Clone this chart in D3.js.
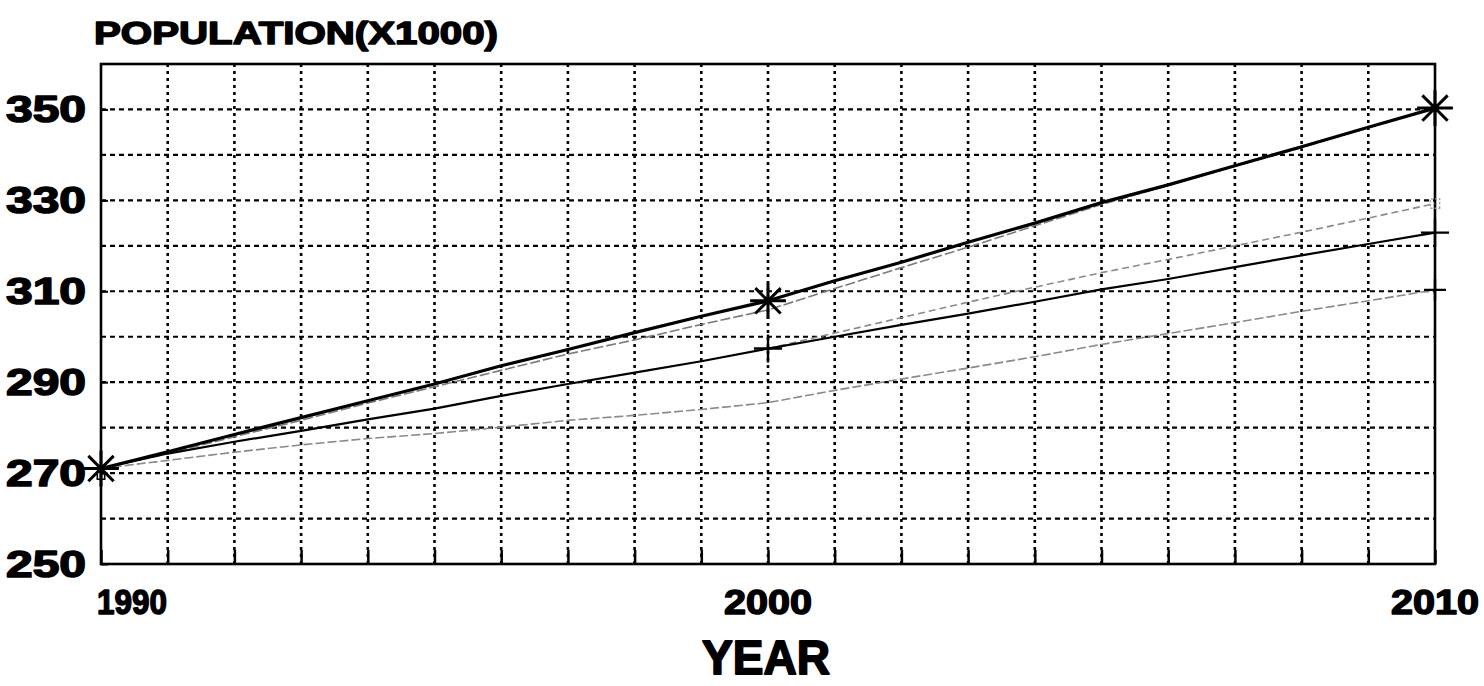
<!DOCTYPE html>
<html>
<head>
<meta charset="utf-8">
<script src="https://cdn.jsdelivr.net/npm/d3@7/dist/d3.min.js"></script>
<style>
  body { margin: 0; background: #fff; }
  text { font-family: "Liberation Sans", Arial, sans-serif; font-weight: bold; fill: #000; stroke: #000; stroke-width: 1.5; stroke-linejoin: round; }
  .grid-h line { stroke: #000; stroke-width: 2.2; stroke-dasharray: 5,4; }
  .grid-v line { stroke: #000; stroke-width: 2.6; stroke-dasharray: 3,4; }
</style>
</head>
<body>
<svg width="1484" height="686"></svg>
<script>
// years on the x axis
let years = [1990, 1991, 1992, 1993, 1994, 1995, 1996, 1997, 1998, 1999, 2000,
             2001, 2002, 2003, 2004, 2005, 2006, 2007, 2008, 2009, 2010];

// population (x1000)
let heavyUpper = [271, 274.7, 278.5, 282.2, 285.9, 289.6, 293.6, 297.2, 300.9, 304.5, 307.9,
                  312.3, 316.4, 320.8, 325.0, 329.5, 333.4, 337.6, 341.8, 346.1, 350.3];
let grayUpper  = [271, 274.3, 278.0, 281.6, 285.4, 289.0, 292.6, 296.2, 299.3, 302.7, 305.9,
                  310.6, 315.2, 319.7, 324.4, 329.1, 333.3, 337.5, 341.6, 346.0, 350.3];
let solidMid   = [271, 274.3, 276.9, 279.3, 281.8, 284.2, 287.0, 289.6, 292.1, 294.6, 297.4,
                  300.0, 302.6, 305.1, 307.7, 310.4, 312.7, 315.3, 317.9, 320.4, 322.9];
let grayMid    = [null, null, null, null, null, null, null, null, null, null, 297.4,
                  300.8, 304.2, 307.6, 310.9, 314.1, 317.0, 320.0, 323.0, 326.1, 329.3];
let grayLower  = [271, 272.8, 274.6, 276.2, 277.6, 278.7, 280.1, 281.6, 282.7, 284.0, 285.5,
                  288.2, 290.7, 293.1, 295.6, 298.3, 300.7, 303.1, 305.6, 307.9, 310.3];

let yTicks = [250, 270, 290, 310, 330, 350];
let yGrid = [260, 270, 280, 290, 300, 310, 320, 330, 340, 350];
let xLabels = [1990, 2000, 2010];

var svg = d3.select("svg");
var plotL = 101, plotR = 1435, plotT = 64, plotB = 564;

var x = d3.scaleLinear().domain([1990, 2010]).range([plotL, plotR]);
var y = d3.scaleLinear().domain([250, 360]).range([plotB, plotT]);

// grid
svg.append("g").attr("class", "grid-h")
    .selectAll("line").data(yGrid).enter().append("line")
    .attr("x1", plotL).attr("x2", plotR)
    .attr("y1", d => y(d)).attr("y2", d => y(d));

svg.append("g").attr("class", "grid-v")
    .selectAll("line").data(years.slice(1, -1)).enter().append("line")
    .attr("y1", plotT).attr("y2", plotB)
    .attr("x1", d => x(d)).attr("x2", d => x(d));

// inward ticks
svg.append("g").call(d3.axisRight(y).tickValues(yTicks).tickSize(7).tickFormat(""))
    .attr("transform", "translate(" + plotL + ",0)")
    .call(g => g.select(".domain").remove())
    .selectAll("line").attr("stroke", "#000").attr("stroke-width", 2);
svg.append("g").call(d3.axisTop(x).tickValues(years).tickSize(14).tickFormat(""))
    .attr("transform", "translate(0," + plotB + ")")
    .call(g => g.select(".domain").remove())
    .selectAll("line").attr("stroke", "#000").attr("stroke-width", 2.5);

// frame
svg.append("rect")
    .attr("x", plotL).attr("y", plotT)
    .attr("width", plotR - plotL).attr("height", plotB - plotT)
    .attr("fill", "none").attr("stroke", "#000").attr("stroke-width", 2.6);

// lines
var line = d3.line()
    .defined(d => d.v != null)
    .x(d => x(d.year))
    .y(d => y(d.v));

function pts(arr) { return years.map((yr, i) => ({year: yr, v: arr[i]})); }

var series = [
    {data: grayLower, color: "#8a8a8a", width: 1.6, dash: "9,3"},
    {data: grayMid,   color: "#8a8a8a", width: 1.6, dash: "7,4"},
    {data: grayUpper, color: "#7a7a7a", width: 1.6, dash: "10,3"},
    {data: solidMid,  color: "#000",    width: 2.2, dash: null},
    {data: heavyUpper, color: "#000",   width: 3.2, dash: null}
];

svg.append("g").selectAll("path").data(series).enter().append("path")
    .attr("fill", "none")
    .attr("stroke", d => d.color)
    .attr("stroke-width", d => d.width)
    .attr("stroke-dasharray", d => d.dash)
    .attr("d", d => line(pts(d.data)));

// markers: 8-point stars on the heavy series
var markIdx = [0, 10, 20];
var stars = svg.append("g").selectAll("g").data(markIdx).enter().append("g")
    .attr("transform", i => "translate(" + x(years[i]) + "," + y(heavyUpper[i]) + ")");
stars.append("path")
    .attr("d", d3.symbol(d3.symbolPlus, 420))
    .attr("fill", "none").attr("stroke", "#000").attr("stroke-width", 3);
stars.append("path")
    .attr("d", d3.symbol(d3.symbolTimes, 420))
    .attr("fill", "none").attr("stroke", "#000").attr("stroke-width", 3);
stars.append("circle").attr("r", 4).attr("fill", "#000");

svg.append("g").selectAll("path").data([10, 20]).enter().append("path")
    .attr("transform", i => "translate(" + x(years[i]) + "," + y(solidMid[i]) + ")")
    .attr("d", d3.symbol(d3.symbolPlus, 260))
    .attr("fill", "none").attr("stroke", "#000").attr("stroke-width", 2.4);
svg.append("g").selectAll("path").data([20]).enter().append("path")
    .attr("transform", i => "translate(" + x(years[i]) + "," + y(grayLower[i]) + ")")
    .attr("d", d3.symbol(d3.symbolPlus, 160))
    .attr("fill", "none").attr("stroke", "#000").attr("stroke-width", 2.4);
svg.append("path")
    .attr("transform", "translate(" + x(years[0]) + "," + (y(grayLower[0]) + 7) + ")")
    .attr("d", d3.symbol(d3.symbolSquare2, 70))
    .attr("fill", "none").attr("stroke", "#000").attr("stroke-width", 1.6);
svg.append("path")
    .attr("transform", "translate(" + x(years[20]) + "," + y(grayMid[20]) + ")")
    .attr("d", d3.symbol(d3.symbolSquare2, 110))
    .attr("fill", "none").attr("stroke", "#999").attr("stroke-width", 1.4)
    .attr("stroke-dasharray", "2,2");

// y labels
svg.append("g").selectAll("text").data(yTicks).enter().append("text")
    .attr("x", 6).attr("y", d => y(d) + 13)
    .attr("textLength", 80).attr("lengthAdjust", "spacingAndGlyphs")
    .style("font-size", "36px")
    .text(d => d);

// x labels
svg.append("g").selectAll("text").data(xLabels).enter().append("text")
    .attr("x", d => d === 1990 ? 97 : x(d) - 44)
    .attr("y", 614)
    .attr("textLength", d => d === 1990 ? 70 : 88).attr("lengthAdjust", "spacingAndGlyphs")
    .style("font-size", "35px")
    .text(d => d);

// titles
svg.append("text")
    .attr("x", 94).attr("y", 44)
    .attr("textLength", 404).attr("lengthAdjust", "spacingAndGlyphs")
    .style("font-size", "32px")
    .text("POPULATION(X1000)");

svg.append("text")
    .attr("x", 702).attr("y", 674)
    .attr("textLength", 128).attr("lengthAdjust", "spacingAndGlyphs")
    .style("font-size", "48px").style("stroke-width", 1.8)
    .text("YEAR");
</script>
</body>
</html>
